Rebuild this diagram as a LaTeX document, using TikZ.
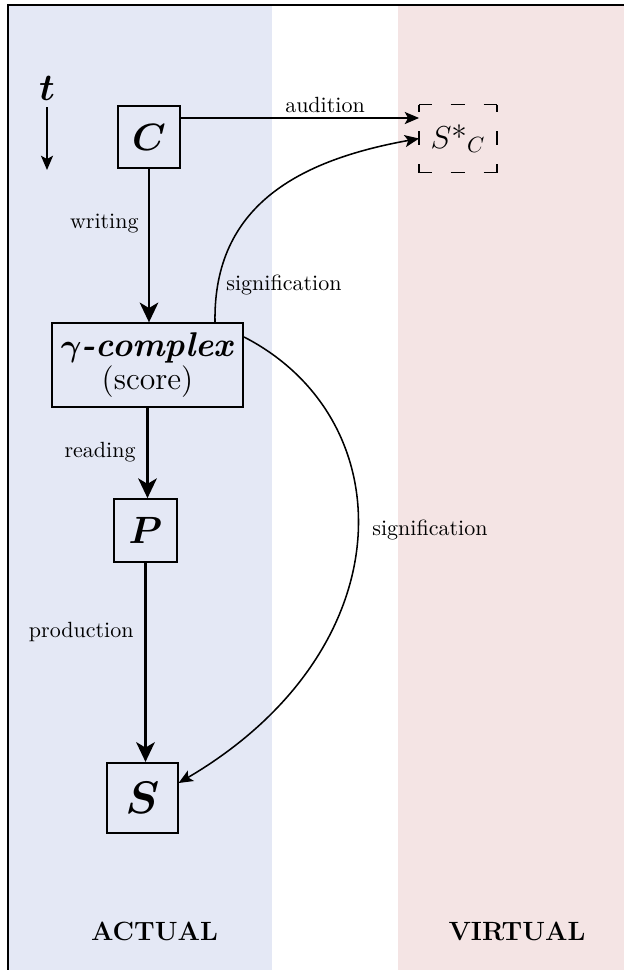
\documentclass[tikz,border=0pt]{standalone}
\usetikzlibrary{arrows.meta,calc}
\definecolor{actualbg}{RGB}{228,232,245}
\definecolor{virtualbg}{RGB}{244,228,228}
\begin{document}
\begin{tikzpicture}[x=0.4545pt,y=-0.4545pt,
  box/.style={draw, line width=0.8pt, inner sep=0pt, fill=actualbg},
  flow/.style={line width=1pt, -{Stealth[length=9pt,width=8.5pt,inset=2.5pt]}},
  rel/.style={line width=0.7pt, -{Stealth[length=6.5pt,width=5.5pt,inset=1.5pt]}},
  lbl/.style={inner sep=0pt, font=\normalsize},
  big/.style={font=\fontsize{18}{22}\selectfont\boldmath},
  dashside/.style={line width=0.8pt, dash pattern=on 6.36pt off 8.64pt}]
\useasboundingbox (0,0) rectangle (624,970);
\fill[actualbg] (8,5) rectangle (272,970);
\fill[virtualbg] (398,5) rectangle (624,970);
\draw[line width=1pt] (8,970) -- (8,5) -- (624,5);

% time
\node[inner sep=0pt, font=\LARGE\boldmath] (t) at (47,88) {$t$};
\coordinate (t1) at (47,107);
\coordinate (t2) at (47,170);
\draw[rel] (t1) -- (t2);

% nodes
\node[box, minimum size=28pt, big] (C) at (149,137) {$C$};
\node[minimum width=35pt, minimum height=30.5pt, inner sep=0pt, font=\Large] (Sv) at (458,138.5) {$S\mbox{*}_{C}$};
\node[box, minimum width=87pt, minimum height=38pt, align=center, inner sep=0pt] (G) at (147.5,365)
  {{\fontsize{15.6}{18}\selectfont\boldmath$\gamma$\textbf{\textit{-complex}}}\\[0pt]{\Large(score)}};
\node[box, minimum size=28.6pt, font=\fontsize{19}{22}\selectfont\boldmath] (P) at (145.5,530.5) {$P$};
\node[box, minimum size=32pt, font=\fontsize{21}{24}\selectfont\boldmath] (S) at (142.5,798) {$S$};

% dashed outline of S*
\draw[dashside, dash phase=0.68pt] (Sv.north west) -- (Sv.north east);
\draw[dashside, dash phase=0.68pt] (Sv.south west) -- (Sv.south east);
\draw[dashside, dash phase=2.95pt] (Sv.north west) -- (Sv.south west);
\draw[dashside, dash phase=2.95pt] (Sv.north east) -- (Sv.south east);

% flows
\draw[flow] (C.south) -- (C.south |- G.north);
\draw[flow] (G.south) -- (G.south |- P.north);
\draw[flow] (P.south) -- (P.south |- S.north);
\node[lbl, anchor=east] (wl) at (139,224) {writing};
\node[lbl, anchor=east] (rl) at (136,452) {reading};
\node[lbl, anchor=east] (pl) at (134,632) {production};

% audition
\coordinate (a1) at ($(C.east)+(0,-19)$);
\draw[rel] (a1) -- (a1 -| Sv.west);
\node[lbl] (al) at (325,105) {audition};

% signification 1
\coordinate (s1) at ($(G.north)+(67.5,0)$);
\draw[rel] (s1) .. controls (213,205) and (300,160) .. (Sv.west);
\node[lbl, anchor=west] (sl1) at (226,285) {signification};

% signification 2
\coordinate (s2) at ($(G.east)+(0,-28)$);
\coordinate (s3) at ($(S.east)+(0,-15)$);
\draw[rel] (s2) .. controls (405,420) and (405,650) .. (s3);
\node[lbl, anchor=west] (sl2) at (372,530) {signification};

% region labels
\node[font=\large\bfseries, inner sep=0pt] (act) at (154.5,931.5) {ACTUAL};
\node[font=\large\bfseries, inner sep=0pt] (vir) at (517,931.5) {VIRTUAL};
\end{tikzpicture}
\end{document}
